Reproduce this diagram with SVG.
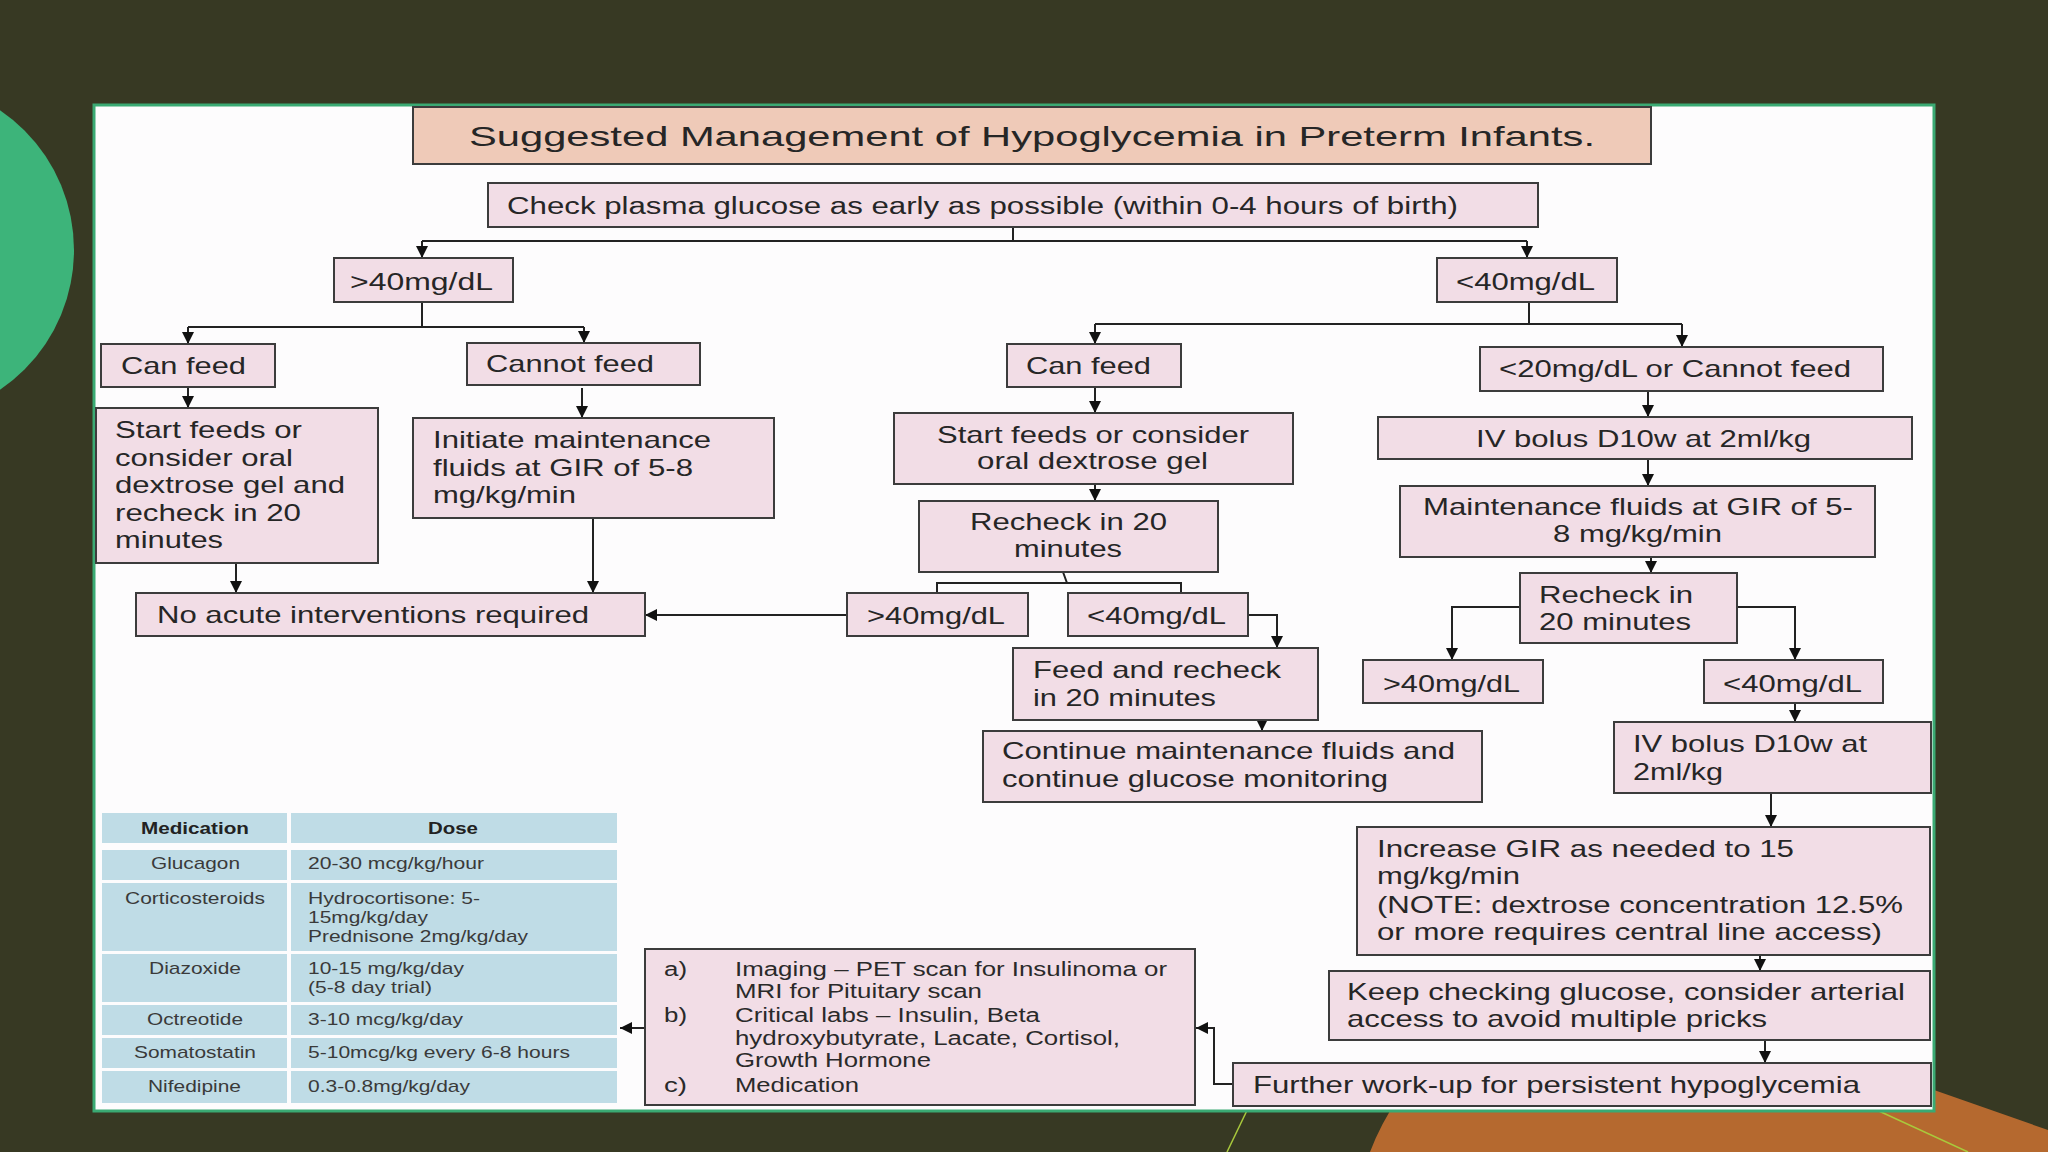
<svg xmlns="http://www.w3.org/2000/svg" width="2048" height="1152" viewBox="0 0 2048 1152">
<defs>
<style>
.nd{fill:#f2dde6;stroke:#3c3c3c;stroke-width:2}
.tt{fill:#efcab8;stroke:#3c3c3c;stroke-width:2}
.t{font-family:"Liberation Sans",Arial,sans-serif;font-size:24px;fill:#262626}
.s{font-size:23px}
.i{font-family:"Liberation Sans",Arial,sans-serif;font-size:20px;fill:#2a2a2a}
.tb{font-family:"Liberation Sans",Arial,sans-serif;font-size:17px;fill:#3a3a3a}
.b{font-weight:bold;fill:#222}
.c{fill:#bfdce6}
.cn{fill:none;stroke:#222;stroke-width:2}
.a{marker-end:url(#ah)}
</style>
<marker id="ah" viewBox="0 0 10 10" refX="10" refY="5" markerWidth="12" markerHeight="12" markerUnits="userSpaceOnUse" orient="auto">
<path d="M0,0 L10,5 L0,10 z" fill="#111"/>
</marker>
</defs>
<rect x="0" y="0" width="2048" height="1152" fill="#373923"/>
<circle cx="-95" cy="250" r="169" fill="#3db47a"/>
<path d="M1370,1152 Q1380,1125 1400,1095 L1400,1060 L1934,1060 L1934,1090 L2048,1130 L2048,1152 Z" fill="#b5692f"/>
<line x1="1252" y1="1100" x2="1227" y2="1152" stroke="#a9c93c" stroke-width="1.5"/>
<line x1="1868" y1="1106" x2="1968" y2="1152" stroke="#a9c93c" stroke-width="1.5"/>
<rect x="94" y="105" width="1840" height="1006" fill="#fdfcfd" stroke="#3aaa73" stroke-width="3"/>

<g id="connectors">
<path class="cn" d="M1013,227 V241 M422,241 H1527"/>
<path class="cn a" d="M422,241 V258"/>
<path class="cn a" d="M1527,241 V258"/>
<path class="cn" d="M422,302 V327 M188,327 H584"/>
<path class="cn a" d="M188,327 V344"/>
<path class="cn a" d="M584,327 V343"/>
<path class="cn a" d="M188,387 V408"/>
<path class="cn a" d="M582,388 V418"/>
<path class="cn a" d="M236,563 V593"/>
<path class="cn a" d="M593,518 V593"/>
<path class="cn" d="M1529,302 V324 M1095,324 H1682"/>
<path class="cn a" d="M1095,324 V344"/>
<path class="cn a" d="M1682,324 V347"/>
<path class="cn a" d="M1095,387 V413"/>
<path class="cn a" d="M1095,484 V501"/>
<path class="cn" d="M1063,572 L1067,583 M937,593 V583 H1181 V593"/>
<path class="cn a" d="M847,615 H645"/>
<path class="cn a" d="M1248,615 H1277 V648"/>
<path class="cn a" d="M1262,720 V731"/>
<path class="cn a" d="M1648,391 V417"/>
<path class="cn a" d="M1648,459 V486"/>
<path class="cn a" d="M1651,557 V573"/>
<path class="cn a" d="M1520,607 H1452 V660"/>
<path class="cn a" d="M1737,607 H1795 V660"/>
<path class="cn a" d="M1795,703 V722"/>
<path class="cn a" d="M1771,793 V827"/>
<path class="cn a" d="M1760,955 V971"/>
<path class="cn a" d="M1765,1040 V1063"/>
<path class="cn a" d="M1233,1084 H1214 V1028 H1196"/>
<path class="cn a" d="M645,1028 H620"/>
</g>

<g id="title">
<rect class="tt" x="413" y="107" width="1238" height="57"/>
<text class="t" style="font-size:28px" x="469" y="146" textLength="1126" lengthAdjust="spacingAndGlyphs">Suggested Management of Hypoglycemia in Preterm Infants.</text>
</g>
<g id="check">
<rect class="nd" x="488" y="183" width="1050" height="44"/>
<text class="t s" x="507" y="214" textLength="951" lengthAdjust="spacingAndGlyphs">Check plasma glucose as early as possible (within 0-4 hours of birth)</text>
</g>
<g id="gt40">
<rect class="nd" x="334" y="258" width="179" height="44"/>
<text class="t s" x="350" y="290" textLength="143" lengthAdjust="spacingAndGlyphs">&gt;40mg/dL</text>
</g>
<g id="lt40">
<rect class="nd" x="1437" y="258" width="180" height="44"/>
<text class="t s" x="1456" y="290" textLength="139" lengthAdjust="spacingAndGlyphs">&lt;40mg/dL</text>
</g>
<g id="canfeed1">
<rect class="nd" x="101" y="344" width="174" height="43"/>
<text class="t" x="121" y="374" textLength="125" lengthAdjust="spacingAndGlyphs">Can feed</text>
</g>
<g id="cannotfeed">
<rect class="nd" x="467" y="343" width="233" height="42"/>
<text class="t" x="486" y="372" textLength="168" lengthAdjust="spacingAndGlyphs">Cannot feed</text>
</g>
<g id="startfeeds1">
<rect class="nd" x="96" y="408" width="282" height="155"/>
<text class="t" x="115" y="438" textLength="187" lengthAdjust="spacingAndGlyphs">Start feeds or</text>
<text class="t" x="115" y="466" textLength="178" lengthAdjust="spacingAndGlyphs">consider oral</text>
<text class="t" x="115" y="493" textLength="230" lengthAdjust="spacingAndGlyphs">dextrose gel and</text>
<text class="t" x="115" y="521" textLength="186" lengthAdjust="spacingAndGlyphs">recheck in 20</text>
<text class="t" x="115" y="548" textLength="108" lengthAdjust="spacingAndGlyphs">minutes</text>
</g>
<g id="initiate">
<rect class="nd" x="413" y="418" width="361" height="100"/>
<text class="t" x="433" y="448" textLength="278" lengthAdjust="spacingAndGlyphs">Initiate maintenance</text>
<text class="t" x="433" y="476" textLength="260" lengthAdjust="spacingAndGlyphs">fluids at GIR of 5-8</text>
<text class="t" x="433" y="503" textLength="143" lengthAdjust="spacingAndGlyphs">mg/kg/min</text>
</g>
<g id="noacute">
<rect class="nd" x="136" y="593" width="509" height="43"/>
<text class="t" x="157" y="623" textLength="432" lengthAdjust="spacingAndGlyphs">No acute interventions required</text>
</g>
<g id="canfeed2">
<rect class="nd" x="1007" y="344" width="174" height="43"/>
<text class="t" x="1026" y="374" textLength="125" lengthAdjust="spacingAndGlyphs">Can feed</text>
</g>
<g id="startfeeds2">
<rect class="nd" x="894" y="413" width="399" height="71"/>
<text class="t" x="937" y="443" textLength="312" lengthAdjust="spacingAndGlyphs">Start feeds or consider</text>
<text class="t" x="977" y="469" textLength="231" lengthAdjust="spacingAndGlyphs">oral dextrose gel</text>
</g>
<g id="recheck1">
<rect class="nd" x="919" y="501" width="299" height="71"/>
<text class="t" x="970" y="530" textLength="197" lengthAdjust="spacingAndGlyphs">Recheck in 20</text>
<text class="t" x="1014" y="557" textLength="108" lengthAdjust="spacingAndGlyphs">minutes</text>
</g>
<g id="gt40b">
<rect class="nd" x="847" y="593" width="181" height="43"/>
<text class="t" x="867" y="624" textLength="138" lengthAdjust="spacingAndGlyphs">&gt;40mg/dL</text>
</g>
<g id="lt40b">
<rect class="nd" x="1068" y="593" width="180" height="43"/>
<text class="t" x="1087" y="624" textLength="139" lengthAdjust="spacingAndGlyphs">&lt;40mg/dL</text>
</g>
<g id="feedrecheck">
<rect class="nd" x="1013" y="648" width="305" height="72"/>
<text class="t" x="1033" y="678" textLength="248" lengthAdjust="spacingAndGlyphs">Feed and recheck</text>
<text class="t" x="1033" y="706" textLength="183" lengthAdjust="spacingAndGlyphs">in 20 minutes</text>
</g>
<g id="continue">
<rect class="nd" x="983" y="731" width="499" height="71"/>
<text class="t" x="1002" y="759" textLength="453" lengthAdjust="spacingAndGlyphs">Continue maintenance fluids and</text>
<text class="t" x="1002" y="787" textLength="386" lengthAdjust="spacingAndGlyphs">continue glucose monitoring</text>
</g>
<g id="lt20">
<rect class="nd" x="1480" y="347" width="403" height="44"/>
<text class="t" x="1499" y="377" textLength="352" lengthAdjust="spacingAndGlyphs">&lt;20mg/dL or Cannot feed</text>
</g>
<g id="ivbolus1">
<rect class="nd" x="1378" y="417" width="534" height="42"/>
<text class="t" x="1476" y="447" textLength="335" lengthAdjust="spacingAndGlyphs">IV bolus D10w at 2ml/kg</text>
</g>
<g id="maintenance">
<rect class="nd" x="1400" y="486" width="475" height="71"/>
<text class="t" x="1423" y="515" textLength="430" lengthAdjust="spacingAndGlyphs">Maintenance fluids at GIR of 5-</text>
<text class="t" x="1553" y="542" textLength="169" lengthAdjust="spacingAndGlyphs">8 mg/kg/min</text>
</g>
<g id="recheck2">
<rect class="nd" x="1520" y="573" width="217" height="70"/>
<text class="t" x="1539" y="603" textLength="154" lengthAdjust="spacingAndGlyphs">Recheck in</text>
<text class="t" x="1539" y="630" textLength="152" lengthAdjust="spacingAndGlyphs">20 minutes</text>
</g>
<g id="gt40c">
<rect class="nd" x="1363" y="660" width="180" height="43"/>
<text class="t" x="1383" y="692" textLength="137" lengthAdjust="spacingAndGlyphs">&gt;40mg/dL</text>
</g>
<g id="lt40c">
<rect class="nd" x="1704" y="660" width="179" height="43"/>
<text class="t" x="1723" y="692" textLength="139" lengthAdjust="spacingAndGlyphs">&lt;40mg/dL</text>
</g>
<g id="ivbolus2">
<rect class="nd" x="1614" y="722" width="317" height="71"/>
<text class="t" x="1633" y="752" textLength="234" lengthAdjust="spacingAndGlyphs">IV bolus D10w at</text>
<text class="t" x="1633" y="780" textLength="90" lengthAdjust="spacingAndGlyphs">2ml/kg</text>
</g>
<g id="increase">
<rect class="nd" x="1357" y="827" width="573" height="128"/>
<text class="t" x="1377" y="857" textLength="417" lengthAdjust="spacingAndGlyphs">Increase GIR as needed to 15</text>
<text class="t" x="1377" y="884" textLength="143" lengthAdjust="spacingAndGlyphs">mg/kg/min</text>
<text class="t" x="1377" y="913" textLength="526" lengthAdjust="spacingAndGlyphs">(NOTE: dextrose concentration 12.5%</text>
<text class="t" x="1377" y="940" textLength="505" lengthAdjust="spacingAndGlyphs">or more requires central line access)</text>
</g>
<g id="keep">
<rect class="nd" x="1329" y="971" width="601" height="69"/>
<text class="t" x="1347" y="1000" textLength="558" lengthAdjust="spacingAndGlyphs">Keep checking glucose, consider arterial</text>
<text class="t" x="1347" y="1027" textLength="420" lengthAdjust="spacingAndGlyphs">access to avoid multiple pricks</text>
</g>
<g id="further">
<rect class="nd" x="1233" y="1063" width="698" height="43"/>
<text class="t" x="1253" y="1093" textLength="607" lengthAdjust="spacingAndGlyphs">Further work-up for persistent hypoglycemia</text>
</g>
<g id="workup">
<rect class="nd" x="645" y="949" width="550" height="156"/>
<text class="i" x="664" y="976" textLength="23" lengthAdjust="spacingAndGlyphs">a)</text>
<text class="i" x="735" y="976" textLength="432" lengthAdjust="spacingAndGlyphs">Imaging – PET scan for Insulinoma or</text>
<text class="i" x="735" y="998" textLength="247" lengthAdjust="spacingAndGlyphs">MRI for Pituitary scan</text>
<text class="i" x="664" y="1022" textLength="23" lengthAdjust="spacingAndGlyphs">b)</text>
<text class="i" x="735" y="1022" textLength="305" lengthAdjust="spacingAndGlyphs">Critical labs – Insulin, Beta</text>
<text class="i" x="735" y="1045" textLength="385" lengthAdjust="spacingAndGlyphs">hydroxybutyrate, Lacate, Cortisol,</text>
<text class="i" x="735" y="1067" textLength="196" lengthAdjust="spacingAndGlyphs">Growth Hormone</text>
<text class="i" x="664" y="1092" textLength="23" lengthAdjust="spacingAndGlyphs">c)</text>
<text class="i" x="735" y="1092" textLength="124" lengthAdjust="spacingAndGlyphs">Medication</text>
</g>
<g id="medtable">
<rect class="c" x="102" y="813" width="185" height="30"/><rect class="c" x="291" y="813" width="326" height="30"/>
<rect class="c" x="102" y="850" width="185" height="30"/><rect class="c" x="291" y="850" width="326" height="30"/>
<rect class="c" x="102" y="883" width="185" height="68"/><rect class="c" x="291" y="883" width="326" height="68"/>
<rect class="c" x="102" y="954" width="185" height="48"/><rect class="c" x="291" y="954" width="326" height="48"/>
<rect class="c" x="102" y="1005" width="185" height="30"/><rect class="c" x="291" y="1005" width="326" height="30"/>
<rect class="c" x="102" y="1038" width="185" height="30"/><rect class="c" x="291" y="1038" width="326" height="30"/>
<rect class="c" x="102" y="1071" width="185" height="32"/><rect class="c" x="291" y="1071" width="326" height="32"/>
<text class="tb b" x="141" y="834" textLength="108" lengthAdjust="spacingAndGlyphs">Medication</text>
<text class="tb b" x="428" y="834" textLength="50" lengthAdjust="spacingAndGlyphs">Dose</text>
<text class="tb" x="151" y="869" textLength="89" lengthAdjust="spacingAndGlyphs">Glucagon</text>
<text class="tb" x="308" y="869" textLength="176" lengthAdjust="spacingAndGlyphs">20-30 mcg/kg/hour</text>
<text class="tb" x="125" y="904" textLength="140" lengthAdjust="spacingAndGlyphs">Corticosteroids</text>
<text class="tb" x="308" y="904" textLength="172" lengthAdjust="spacingAndGlyphs">Hydrocortisone: 5-</text>
<text class="tb" x="308" y="923" textLength="120" lengthAdjust="spacingAndGlyphs">15mg/kg/day</text>
<text class="tb" x="308" y="942" textLength="220" lengthAdjust="spacingAndGlyphs">Prednisone 2mg/kg/day</text>
<text class="tb" x="149" y="974" textLength="92" lengthAdjust="spacingAndGlyphs">Diazoxide</text>
<text class="tb" x="308" y="974" textLength="156" lengthAdjust="spacingAndGlyphs">10-15 mg/kg/day</text>
<text class="tb" x="308" y="993" textLength="124" lengthAdjust="spacingAndGlyphs">(5-8 day trial)</text>
<text class="tb" x="147" y="1025" textLength="96" lengthAdjust="spacingAndGlyphs">Octreotide</text>
<text class="tb" x="308" y="1025" textLength="155" lengthAdjust="spacingAndGlyphs">3-10 mcg/kg/day</text>
<text class="tb" x="134" y="1058" textLength="122" lengthAdjust="spacingAndGlyphs">Somatostatin</text>
<text class="tb" x="308" y="1058" textLength="262" lengthAdjust="spacingAndGlyphs">5-10mcg/kg every 6-8 hours</text>
<text class="tb" x="148" y="1092" textLength="93" lengthAdjust="spacingAndGlyphs">Nifedipine</text>
<text class="tb" x="308" y="1092" textLength="162" lengthAdjust="spacingAndGlyphs">0.3-0.8mg/kg/day</text>
</g>
</svg>
